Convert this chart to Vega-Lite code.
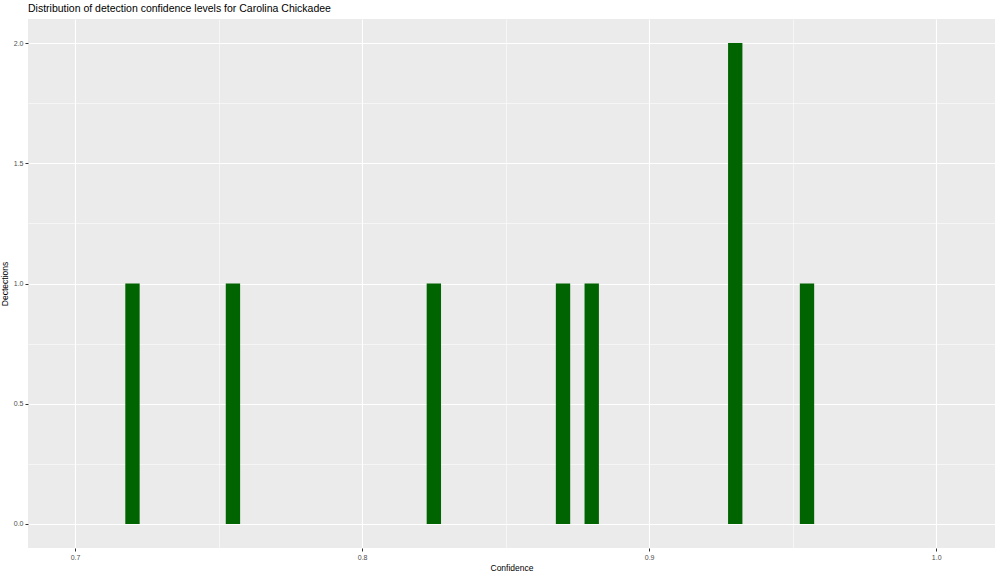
{
  "$schema": "https://vega.github.io/schema/vega-lite/v6.json",
  "autosize": "none",
  "width": 967,
  "height": 529,
  "padding": {"left": 28, "top": 19, "right": 5, "bottom": 25},
  "background": "white",
  "title": {
    "text": "Distribution of detection confidence levels for Carolina Chickadee",
    "anchor": "start",
    "frame": "group",
    "font": "Liberation Sans",
    "fontSize": 10.5,
    "fontWeight": "normal",
    "color": "black",
    "offset": 5
  },
  "config": {
    "view": {"fill": "#EBEBEB", "stroke": null},
    "font": "Liberation Sans"
  },
  "data": {
    "values": [
      {"bin_start": 0.7175, "bin_end": 0.7225, "count": 1},
      {"bin_start": 0.7525, "bin_end": 0.7575, "count": 1},
      {"bin_start": 0.8225, "bin_end": 0.8275, "count": 1},
      {"bin_start": 0.8675, "bin_end": 0.8725, "count": 1},
      {"bin_start": 0.8775, "bin_end": 0.8825, "count": 1},
      {"bin_start": 0.9275, "bin_end": 0.9325, "count": 2},
      {"bin_start": 0.9525, "bin_end": 0.9575, "count": 1}
    ]
  },
  "mark": {"type": "bar", "color": "#006400"},
  "encoding": {
    "x": {
      "field": "bin_start",
      "type": "quantitative",
      "scale": {"domain": [0.6836, 1.0205], "nice": false, "zero": false},
      "axis": {
        "values": [0.7, 0.75, 0.8, 0.85, 0.9, 0.95, 1.0],
        "labelExpr": "round(datum.value*100) % 10 == 0 ? format(datum.value, '.1f') : ''",
        "domain": false,
        "grid": true,
        "gridColor": "white",
        "gridWidth": {"condition": {"test": "round(datum.value*100) % 10 == 0", "value": 1.1}, "value": 0.55},
        "tickColor": "#333333",
        "tickOpacity": {"condition": {"test": "round(datum.value*100) % 10 == 0", "value": 1}, "value": 0},
        "tickSize": 3,
        "tickWidth": 1,
        "labelFont": "Liberation Sans",
        "labelFontSize": 7,
        "labelColor": "#4D4D4D",
        "labelPadding": 2,
        "title": "Confidence",
        "titleFont": "Liberation Sans",
        "titleFontSize": 8.5,
        "titleFontWeight": "normal",
        "titleColor": "black",
        "titlePadding": 3
      }
    },
    "x2": {"field": "bin_end"},
    "y": {
      "field": "count",
      "type": "quantitative",
      "scale": {"domain": [-0.1, 2.1], "nice": false, "zero": false},
      "axis": {
        "values": [0, 0.25, 0.5, 0.75, 1, 1.25, 1.5, 1.75, 2],
        "labelExpr": "round(datum.value*100) % 50 == 0 ? format(datum.value, '.1f') : ''",
        "domain": false,
        "grid": true,
        "gridColor": "white",
        "gridWidth": {"condition": {"test": "round(datum.value*100) % 50 == 0", "value": 1.1}, "value": 0.55},
        "tickColor": "#333333",
        "tickOpacity": {"condition": {"test": "round(datum.value*100) % 50 == 0", "value": 1}, "value": 0},
        "tickSize": 3,
        "tickWidth": 1,
        "labelFont": "Liberation Sans",
        "labelFontSize": 7,
        "labelColor": "#4D4D4D",
        "labelPadding": 2,
        "title": "Dectections",
        "titleFont": "Liberation Sans",
        "titleFontSize": 8.5,
        "titleFontWeight": "normal",
        "titleColor": "black",
        "titlePadding": 4
      }
    },
    "y2": {"datum": 0}
  }
}
